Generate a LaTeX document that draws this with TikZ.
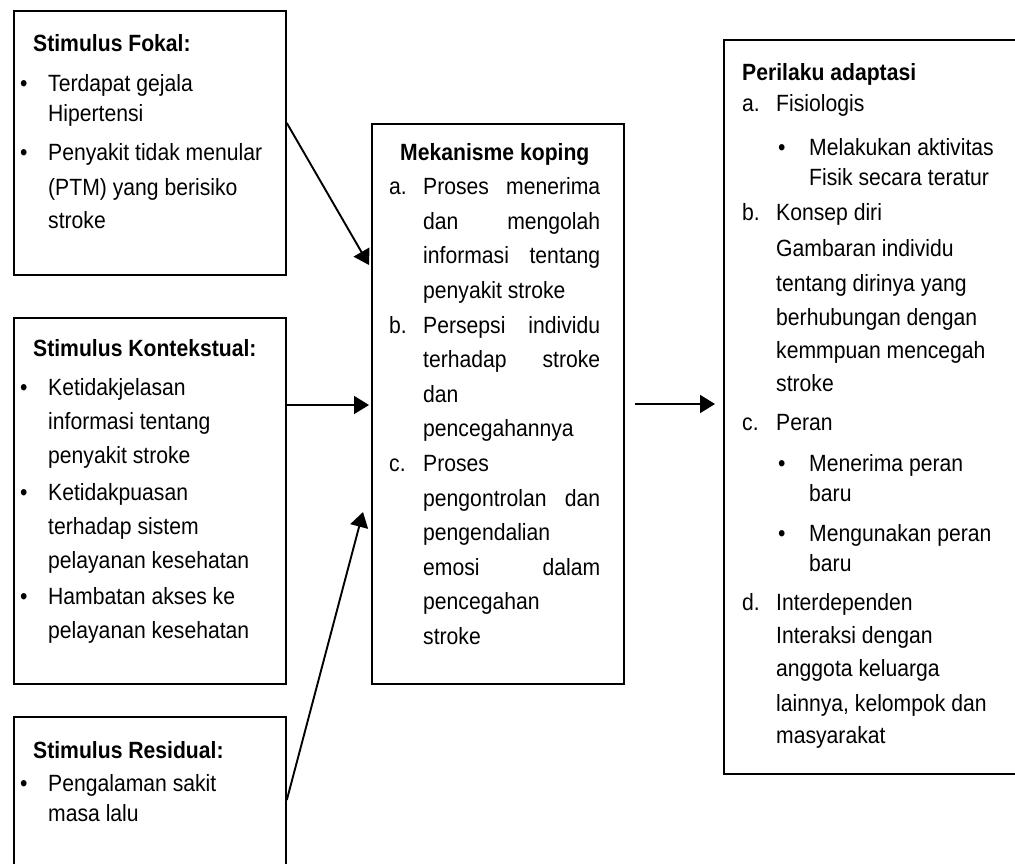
\documentclass[tikz,border=0pt]{standalone}
\usepackage{fontspec}
\setmainfont{Liberation Sans}[FakeStretch=0.9]
\usetikzlibrary{arrows.meta}
\newcommand{\bul}[1][30pt]{\makebox[#1][l]{\hspace{2pt}\textbullet}}
\newcommand{\indt}[1][30pt]{\hspace*{#1}}
\newcommand{\lbl}[1]{\makebox[34pt][l]{#1}}
\newcommand{\jst}[2][177pt]{\makebox[#1][s]{#2}}

\begin{document}
\begin{tikzpicture}[x=1pt,y=-1pt,
  box/.style={draw,line width=1.8pt,inner sep=0pt,anchor=north west},
  txt/.style={inner sep=0pt,anchor=base west,font=\fontsize{23.5}{33}\selectfont},
  arr/.style={line width=1.9pt,-{Triangle[length=15pt,width=18pt]}}]
\useasboundingbox (0,0) rectangle (1015,863);
\clip (0,0) rectangle (1015,863);
\fill[white] (0,0) rectangle (1015,863);

\node[box,minimum width=272pt,minimum height=264pt] (fokal) at (13,10) {};
\node[box,minimum width=272pt,minimum height=366pt] (kontekstual) at (13,317) {};
\node[box,minimum width=272pt,minimum height=170pt] (residual) at (13,716) {};
\node[box,minimum width=252pt,minimum height=560pt] (koping) at (371,123) {};
\node[box,minimum width=310pt,minimum height=734pt] (adaptasi) at (723,39) {};

\node[txt] (fokaltxt) at (18,51) {\begin{tabular}[t]{@{}l@{}}
\indt[15pt]\textbf{Stimulus Fokal:}\\[7pt]
\bul Terdapat gejala\\[-3pt]
\indt Hipertensi\\[6pt]
\bul Penyakit tidak menular\\[2pt]
\indt (PTM) yang berisiko\\
\indt stroke
\end{tabular}};

\node[txt,font=\fontsize{23.5}{34}\selectfont] (kontekstualtxt) at (18,356) {\begin{tabular}[t]{@{}l@{}}
\indt[15pt]\textbf{Stimulus Kontekstual:}\\[5pt]
\bul Ketidakjelasan\\
\indt informasi tentang\\
\indt penyakit stroke\\[3pt]
\bul Ketidakpuasan\\
\indt terhadap sistem\\
\indt pelayanan kesehatan\\[2pt]
\bul Hambatan akses ke\\
\indt pelayanan kesehatan
\end{tabular}};

\node[txt,font=\fontsize{23.5}{32}\selectfont] (residualtxt) at (18,758) {\begin{tabular}[t]{@{}l@{}}
\indt[15pt]\textbf{Stimulus Residual:}\\[1pt]
\bul Pengalaman sakit\\[-2pt]
\indt masa lalu
\end{tabular}};

\node[txt,font=\fontsize{23.5}{34.6}\selectfont] (kopingtxt) at (389,160) {\begin{tabular}[t]{@{}l@{}}
\indt[11pt]\textbf{Mekanisme koping}\\
\lbl{a.}\jst{Proses menerima}\\
\lbl{}\jst{dan mengolah}\\
\lbl{}\jst{informasi tentang}\\
\lbl{}penyakit stroke\\
\lbl{b.}\jst{Persepsi individu}\\
\lbl{}\jst{terhadap stroke}\\
\lbl{}dan\\
\lbl{}pencegahannya\\
\lbl{c.}Proses\\
\lbl{}\jst{pengontrolan dan}\\
\lbl{}pengendalian\\
\lbl{}\jst{emosi dalam}\\
\lbl{}pencegahan\\
\lbl{}stroke
\end{tabular}};

\node[txt] (adaptasitxt) at (742,80) {\begin{tabular}[t]{@{}l@{}}
\textbf{Perilaku adaptasi}\\[-2pt]
\lbl{a.}Fisiologis\\[11pt]
\lbl{}\bul[33pt]Melakukan aktivitas\\[-3pt]
\lbl{}\indt[33pt]Fisik secara teratur\\[2pt]
\lbl{b.}Konsep diri\\[3pt]
\lbl{}Gambaran individu\\[2pt]
\lbl{}tentang dirinya yang\\[1pt]
\lbl{}berhubungan dengan\\
\lbl{}kemmpuan mencegah\\
\lbl{}stroke\\[6pt]
\lbl{c.}Peran\\[8pt]
\lbl{}\bul[33pt]Menerima peran\\[-3pt]
\lbl{}\indt[33pt]baru\\[7pt]
\lbl{}\bul[33pt]Mengunakan peran\\[-3pt]
\lbl{}\indt[33pt]baru\\[6pt]
\lbl{d.}Interdependen\\
\lbl{}Interaksi dengan\\
\lbl{}anggota keluarga\\[2pt]
\lbl{}lainnya, kelompok dan\\[-1pt]
\lbl{}masyarakat
\end{tabular}};

\draw[arr] ([yshift=-113pt]fokal.north east) -- ([xshift=-2pt,yshift=-142pt]koping.north west);
\draw[arr] ([yshift=-88pt]kontekstual.north east) -- ([xshift=-2pt,yshift=-282pt]koping.north west);
\draw[arr] ([yshift=-84pt]residual.north east) -- ([xshift=-8pt,yshift=-389pt]koping.north west);
\draw[arr] ([xshift=10pt,yshift=-281pt]koping.north east) -- ([xshift=-8pt,yshift=-365pt]adaptasi.north west);
\end{tikzpicture}
\end{document}
